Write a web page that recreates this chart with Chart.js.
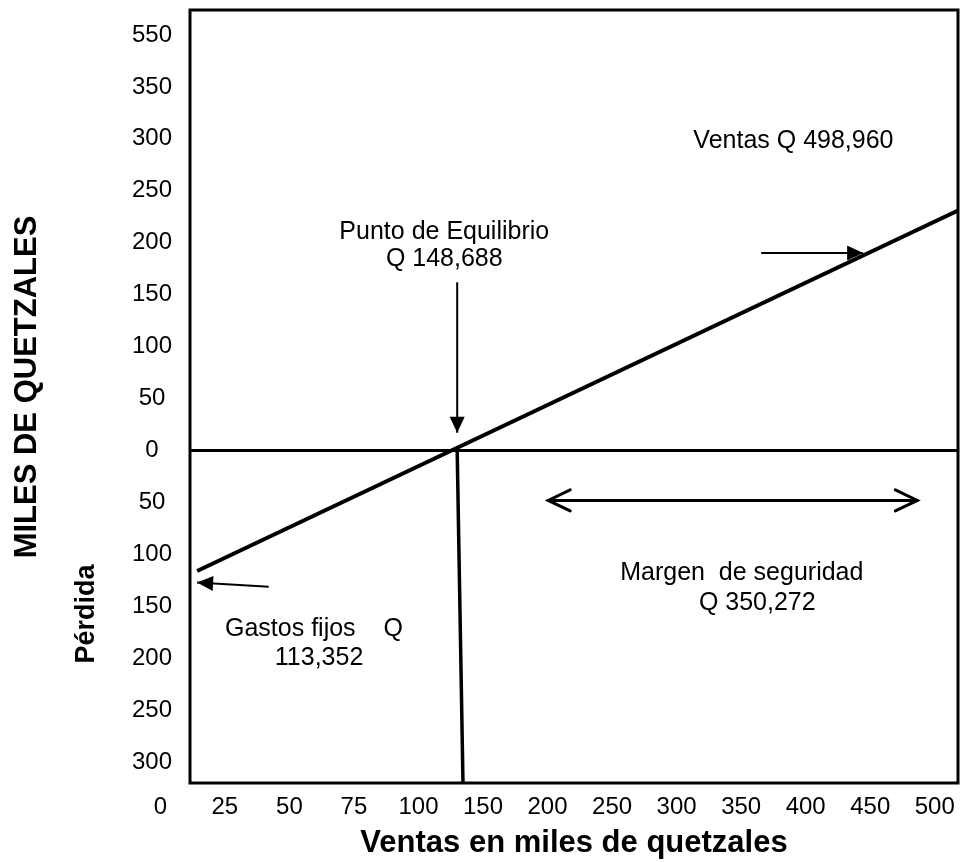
<!DOCTYPE html>
<html>
<head>
<meta charset="utf-8">
<title>Punto de equilibrio</title>
<script src="https://cdn.jsdelivr.net/npm/chart.js@4.4.1/dist/chart.umd.min.js"></script>
<style>
  html, body { margin: 0; padding: 0; background: #fff; }
  #wrap { width: 963px; height: 862px; }
</style>
</head>
<body>
<div id="wrap"><canvas id="chart" width="963" height="862"></canvas></div>
<script>
/* Tick labels as printed (the original scale is not uniform, so x is a tick index) */
const xTickLabels = ['0', '25', '50', '75', '100', '150', '200', '250', '300', '350', '400', '450', '500']
const yTickValues = [-300, -250, -200, -150, -100, -50, 0, 50, 100, 150, 200, 250, 300, 350, 400]
const yTickLabels = ['300', '250', '200', '150', '100', '50', '0', '50', '100', '150', '200', '250', '300', '350', '550']

/* Lines: x = position on the sales axis, y = miles de quetzales */
const salesLine = [{ x: 0.57, y: -116 }, { x: 12.36, y: 231 }]
const zeroLine = [{ x: 0.46, y: 0 }, { x: 12.36, y: 0 }]
const breakEvenLine = [{ x: 4.6, y: 0 }, { x: 4.69, y: -320 }]
const breakEvenArrow = [{ x: 4.6, y: 162 }, { x: 4.6, y: 17 }]
const salesArrow = [{ x: 9.31, y: 190 }, { x: 10.89, y: 190 }]
const fixedCostArrow = [{ x: 1.68, y: -131 }, { x: 0.57, y: -127 }]
const marginArrow = [{ x: 6.01, y: -48 }, { x: 11.73, y: -48 }]

/* Text notes inside the plot */
const notes = [
  { text: 'Punto de Equilibrio', x: 4.4, y: 210 },
  { text: 'Q 148,688', x: 4.4, y: 184 },
  { text: 'Ventas Q 498,960', x: 9.81, y: 298 },
  { text: 'Margen  de seguridad', x: 9.01, y: -118 },
  { text: 'Q 350,272', x: 9.25, y: -147 },
  { text: 'Gastos fijos    Q', x: 2.38, y: -172 },
  { text: '113,352', x: 2.46, y: -200 }
]

const FONT = '"Liberation Sans", Arial, sans-serif'
Chart.defaults.color = '#000'
Chart.defaults.font.family = FONT

function line(data, width, extra) {
  return Object.assign({
    data: data,
    showLine: true,
    borderColor: '#000',
    backgroundColor: '#000',
    borderWidth: width,
    pointRadius: 0,
    tension: 0
  }, extra || {})
}

function drawHead(ctx, from, to, style) {
  const a = Math.atan2(to.y - from.y, to.x - from.x)
  ctx.save()
  ctx.translate(to.x, to.y)
  ctx.rotate(a)
  ctx.fillStyle = '#000'
  ctx.strokeStyle = '#000'
  ctx.beginPath()
  if (style === 'filled') {
    ctx.moveTo(0, 0)
    ctx.lineTo(-16, -7.5)
    ctx.lineTo(-16, 7.5)
    ctx.closePath()
    ctx.fill()
  } else {
    ctx.lineWidth = 3
    ctx.lineCap = 'round'
    ctx.moveTo(-22, -10.5)
    ctx.lineTo(0, 0)
    ctx.lineTo(-22, 10.5)
    ctx.stroke()
  }
  ctx.restore()
}

const arrowHeads = {
  id: 'arrowHeads',
  afterDatasetsDraw(chart) {
    chart.data.datasets.forEach((ds, i) => {
      const pts = chart.getDatasetMeta(i).data
      if (ds.arrowEnd) drawHead(chart.ctx, pts[pts.length - 2], pts[pts.length - 1], ds.arrowEnd)
      if (ds.arrowStart) drawHead(chart.ctx, pts[1], pts[0], ds.arrowStart)
    })
  }
}

const frameAndText = {
  id: 'frameAndText',
  beforeDraw(chart) {
    const ctx = chart.ctx
    ctx.save()
    ctx.fillStyle = '#fff'
    ctx.fillRect(0, 0, chart.width, chart.height)
    ctx.restore()
  },
  afterDraw(chart) {
    const ctx = chart.ctx
    const a = chart.chartArea
    const xs = chart.scales.x
    const ys = chart.scales.y
    ctx.save()
    // box around the plot
    ctx.strokeStyle = '#000'
    ctx.lineWidth = 3
    ctx.strokeRect(a.left, a.top, a.right - a.left, a.bottom - a.top)

    // notes
    ctx.fillStyle = '#000'
    ctx.textAlign = 'center'
    ctx.textBaseline = 'middle'
    ctx.font = '25px ' + FONT
    notes.forEach(n => {
      ctx.fillText(n.text, xs.getPixelForValue(n.x), ys.getPixelForValue(n.y))
    })

    // rotated y titles
    ctx.translate(27, 387)
    ctx.rotate(-Math.PI / 2)
    ctx.font = 'bold 31px ' + FONT
    ctx.fillText('MILES DE QUETZALES', 0, 0)
    ctx.rotate(Math.PI / 2)
    ctx.translate(-27, -387)
    ctx.translate(87, 614)
    ctx.rotate(-Math.PI / 2)
    ctx.font = 'bold 27px ' + FONT
    ctx.fillText('Pérdida', 0, 0)
    ctx.restore()
  }
}

new Chart(document.getElementById('chart'), {
  type: 'scatter',
  data: {
    datasets: [
      line(zeroLine, 3),
      line(breakEvenLine, 3.5),
      line(salesLine, 4),
      line(breakEvenArrow, 2, { arrowEnd: 'filled' }),
      line(salesArrow, 2, { arrowEnd: 'filled' }),
      line(fixedCostArrow, 2, { arrowEnd: 'filled' }),
      line(marginArrow, 3, { arrowStart: 'open', arrowEnd: 'open' })
    ]
  },
  options: {
    responsive: false,
    devicePixelRatio: 1,
    animation: false,
    layout: { padding: { top: 10, right: 5, left: 0, bottom: 0 } },
    plugins: {
      legend: { display: false },
      tooltip: { enabled: false }
    },
    scales: {
      x: {
        type: 'linear',
        min: 0.46,
        max: 12.36,
        grid: { display: false, drawTicks: false },
        border: { display: false },
        afterBuildTicks: scale => {
          scale.ticks = xTickLabels.map((t, i) => ({ value: i }))
        },
        afterFit: scale => {
          scale.height = 79
          scale.paddingLeft = 0
          scale.paddingRight = 0
        },
        ticks: {
          autoSkip: false,
          maxRotation: 0,
          padding: 10,
          font: { size: 24 },
          callback: (value, index) => xTickLabels[index]
        },
        title: {
          display: true,
          text: 'Ventas en miles de quetzales',
          font: { size: 31, weight: 'bold' },
          padding: { top: 0, bottom: 0 }
        }
      },
      y: {
        type: 'linear',
        min: -320,
        max: 424,
        grid: { display: false, drawTicks: false },
        border: { display: false },
        afterBuildTicks: scale => {
          scale.ticks = yTickValues.map(v => ({ value: v }))
        },
        afterFit: scale => {
          scale.width = 190
          scale.paddingTop = 0
          scale.paddingBottom = 0
        },
        ticks: {
          autoSkip: false,
          crossAlign: 'center',
          padding: 18,
          font: { size: 24 },
          callback: (value, index) => yTickLabels[index]
        }
      }
    }
  },
  plugins: [arrowHeads, frameAndText]
})
</script>
</body>
</html>
